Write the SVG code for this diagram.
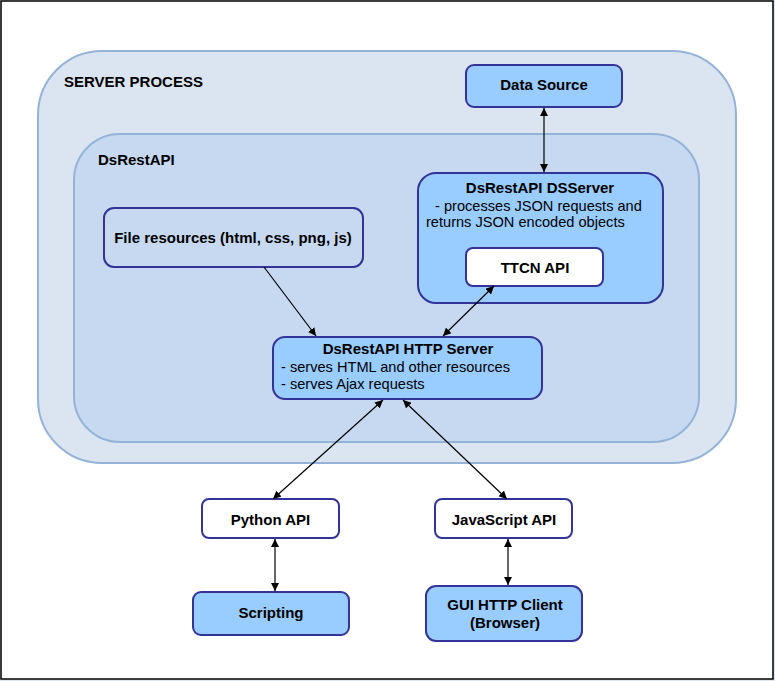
<svg xmlns="http://www.w3.org/2000/svg" width="775" height="681" viewBox="0 0 775 681">
<defs>
<marker id="ah" viewBox="0 0 10 10" refX="10" refY="5" markerWidth="8" markerHeight="8" markerUnits="userSpaceOnUse" orient="auto-start-reverse">
<path d="M0,0 L10,5 L0,10 z" fill="#000"/>
</marker>
</defs>
<style>
text{font-family:"Liberation Sans",Arial,sans-serif;font-size:14.6px;fill:#000}
.b{font-weight:bold;font-size:15px}
.c{text-anchor:middle}
.node{stroke:#333399;stroke-width:2}
.blue{fill:#99ccff}
.white{fill:#ffffff}
.cont{stroke:#95b3d7;stroke-width:2}
.conn line{stroke:#000;stroke-width:1.2;fill:none}
</style>
<rect x="0" y="0" width="775" height="681" fill="#dce6f2"/>
<rect x="1" y="1" width="772" height="678" fill="#ffffff" stroke="#000" stroke-width="1.5"/>
<g id="server-process">
<rect class="cont" x="38" y="51" width="698" height="412" rx="64" ry="64" fill="#dbe5f1"/>
<text class="b" x="64" y="87">SERVER PROCESS</text>
</g>
<g id="dsrestapi">
<rect class="cont" x="74" y="134" width="625" height="308" rx="46" ry="46" fill="#c6d9f1"/>
<text class="b" x="98" y="165">DsRestAPI</text>
</g>
<g id="file-resources">
<rect class="node" x="104" y="208" width="259" height="59" rx="10" ry="10" fill="#c6d9f1"/>
<text class="b c" x="233" y="243">File resources (html, css, png, js)</text>
</g>
<g id="data-source">
<rect class="node blue" x="466" y="65" width="156" height="42" rx="8" ry="8"/>
<text class="b c" x="544" y="90">Data Source</text>
</g>
<g id="dsserver">
<rect class="node blue" x="418" y="173" width="245" height="130" rx="18" ry="18"/>
<text class="b c" x="540" y="193">DsRestAPI DSServer</text>
<text x="435" y="211">- processes JSON requests and</text>
<text x="426" y="227">returns JSON encoded objects</text>
</g>
<g id="ttcn-api">
<rect class="node white" x="466" y="248" width="137" height="38" rx="7" ry="7"/>
<text class="b c" x="535" y="273">TTCN API</text>
</g>
<g id="http-server">
<rect class="node blue" x="273" y="337" width="269" height="62" rx="12" ry="12"/>
<text class="b c" x="408" y="354">DsRestAPI HTTP Server</text>
<text x="281" y="372">- serves HTML and other resources</text>
<text x="281" y="389">- serves Ajax requests</text>
</g>
<g id="python-api">
<rect class="node white" x="202" y="499" width="137" height="39" rx="7" ry="7"/>
<text class="b c" x="270.5" y="525">Python API</text>
</g>
<g id="javascript-api">
<rect class="node white" x="435" y="499" width="137" height="39" rx="7" ry="7"/>
<text class="b c" x="504" y="525">JavaScript API</text>
</g>
<g id="scripting">
<rect class="node blue" x="193" y="592" width="156" height="43" rx="8" ry="8"/>
<text class="b c" x="271" y="618">Scripting</text>
</g>
<g id="gui-client">
<rect class="node blue" x="426" y="586" width="156" height="55" rx="10" ry="10"/>
<text class="b c" x="505" y="610">GUI HTTP Client</text>
<text class="b c" x="505" y="628">(Browser)</text>
</g>
<g id="connectors" class="conn">
<line x1="544" y1="108" x2="544" y2="172" marker-start="url(#ah)" marker-end="url(#ah)"/>
<line x1="264" y1="267" x2="316" y2="336" marker-end="url(#ah)"/>
<line x1="443" y1="336" x2="494" y2="286" marker-start="url(#ah)" marker-end="url(#ah)"/>
<line x1="383" y1="400" x2="273" y2="499" marker-start="url(#ah)" marker-end="url(#ah)"/>
<line x1="403" y1="400" x2="507" y2="499" marker-start="url(#ah)" marker-end="url(#ah)"/>
<line x1="275" y1="539" x2="275" y2="591" marker-start="url(#ah)" marker-end="url(#ah)"/>
<line x1="508" y1="539" x2="508" y2="585" marker-start="url(#ah)" marker-end="url(#ah)"/>
</g>
</svg>
